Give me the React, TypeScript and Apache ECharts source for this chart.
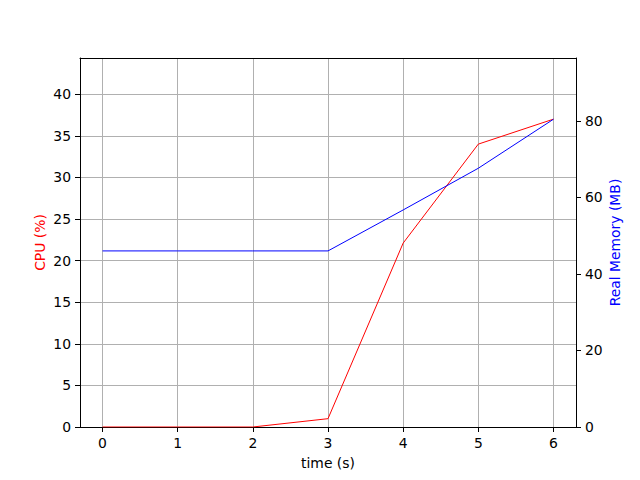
import React, { useEffect, useRef } from "react";
import * as echarts from "echarts";

const times = [0, 1, 2, 3, 4, 5, 6];
const cpu = [0, 0, 0, 1.0, 22.1, 34.0, 37.0];
const memory = [46.0, 46.0, 46.0, 46.0, 56.7, 67.6, 80.4];
const xTicks = [0, 1, 2, 3, 4, 5, 6];
const cpuTicks = [0, 5, 10, 15, 20, 25, 30, 35, 40];
const memTicks = [0, 20, 40, 60, 80];

const FONT = "DejaVu Sans";
const FS = 13.9;

export default function App() {
  const ref = useRef<HTMLDivElement>(null);
  useEffect(() => {
    if (!ref.current) return;
    const chart = echarts.init(ref.current, null, { renderer: "svg" });
    const axisLine = { show: true, onZero: false, lineStyle: { color: "#000", width: 1 } };
    const tick = { show: true, length: 5, lineStyle: { color: "#000", width: 1 } };
    chart.setOption({
      animation: false,
      backgroundColor: "#fff",
      textStyle: { fontFamily: FONT },
      grid: { left: 80, right: 64, top: 58, bottom: 53, containLabel: false },
      xAxis: [
        {
          type: "value",
          min: -0.3,
          max: 6.3,
          position: "bottom",
          axisLine,
          axisTick: { ...tick, customValues: xTicks },
          axisLabel: { customValues: xTicks, color: "#000", fontSize: FS, fontFamily: FONT, margin: 9 },
          splitLine: { show: true, lineStyle: { color: "#b0b0b0", width: 1 } },
          name: "time (s)",
          nameLocation: "middle",
          nameGap: 29,
          nameMoveOverlap: false,
          nameTextStyle: { color: "#000", fontSize: FS, fontFamily: FONT },
        },
        {
          type: "value",
          min: -0.3,
          max: 6.3,
          position: "top",
          axisLine,
          axisTick: { show: false },
          axisLabel: { show: false },
          splitLine: { show: false },
        },
      ],
      yAxis: [
        {
          type: "value",
          min: 0,
          max: 44.35,
          position: "left",
          axisLine,
          axisTick: { ...tick, customValues: cpuTicks },
          axisLabel: { customValues: cpuTicks, color: "#000", fontSize: FS, fontFamily: FONT, margin: 9 },
          splitLine: { show: true, lineStyle: { color: "#b0b0b0", width: 1 } },
          name: "CPU (%)",
          nameLocation: "middle",
          nameGap: 33,
          nameMoveOverlap: false,
          nameTextStyle: { color: "#ff0000", fontSize: FS, fontFamily: FONT },
        },
        {
          type: "value",
          min: 0,
          max: 96.4,
          position: "right",
          axisLine,
          axisTick: { ...tick, customValues: memTicks },
          axisLabel: { customValues: memTicks, color: "#000", fontSize: FS, fontFamily: FONT, margin: 9 },
          splitLine: { show: false },
          name: "Real Memory (MB)",
          nameLocation: "middle",
          nameGap: 32,
          nameMoveOverlap: false,
          nameTextStyle: { color: "#0000ff", fontSize: FS, fontFamily: FONT },
        },
      ],
      series: [
        {
          type: "line",
          xAxisIndex: 0,
          yAxisIndex: 0,
          data: times.map((t, i) => [t, cpu[i]]),
          showSymbol: false,
          symbol: "none",
          lineStyle: { color: "#ff0000", width: 1 },
          itemStyle: { color: "#ff0000" },
        },
        {
          type: "line",
          xAxisIndex: 0,
          yAxisIndex: 1,
          data: times.map((t, i) => [t, memory[i]]),
          showSymbol: false,
          symbol: "none",
          lineStyle: { color: "#0000ff", width: 1 },
          itemStyle: { color: "#0000ff" },
        },
      ],
    });
    return () => chart.dispose();
  }, []);
  return <div ref={ref} style={{ width: 640, height: 480, position: "absolute", left: 0, top: 0 }} />;
}
